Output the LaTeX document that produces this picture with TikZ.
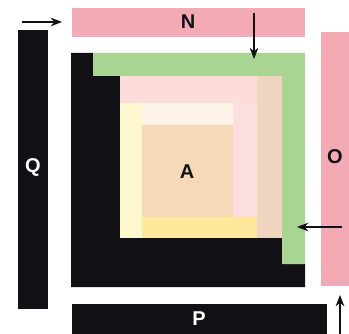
\documentclass[tikz,border=0pt]{standalone}
\usepackage{fontspec}
\setmainfont{Liberation Sans}
\usetikzlibrary{arrows.meta}
\definecolor{ink}{RGB}{17,17,21}
\definecolor{barpink}{RGB}{244,170,181}
\definecolor{leafgreen}{RGB}{170,212,146}
\definecolor{bandpink}{RGB}{252,221,219}
\definecolor{coltan}{RGB}{239,212,192}
\definecolor{colpink}{RGB}{253,222,224}
\definecolor{paleyellow}{RGB}{255,247,208}
\definecolor{cream}{RGB}{252,243,232}
\definecolor{coretan}{RGB}{245,217,185}
\definecolor{bandyellow}{RGB}{255,232,155}

\begin{document}
\begin{tikzpicture}[x=0.75pt,y=0.75pt,yscale=-1,xscale=1,
  lbl/.style={font=\fontsize{15}{15}\selectfont\bfseries, inner sep=0.75pt},
  arr/.style={-{Stealth[length=8.5pt,width=6.5pt]}, line width=0.8pt, color=ink}]
\useasboundingbox (0,0) rectangle (349,334);

%Shape: Rectangle [bar N]
\fill [barpink] (72,8) rectangle (305,37);
%Shape: Rectangle [bar O]
\fill [barpink] (321,32) rectangle (349,286);
%Shape: Rectangle [bar Q]
\fill [ink] (18,30) rectangle (48,309);
%Shape: Rectangle [bar P]
\fill [ink] (72,304) rectangle (327,334);

%Shape: Polygon [black L]
\fill [ink] (71,53) -- (93,53) -- (93,76) -- (120,76) -- (120,238) -- (282,238) -- (282,264) -- (305,264) -- (305,287) -- (71,287) -- cycle;
%Shape: Polygon [green L]
\fill [leafgreen] (93,53) -- (305,53) -- (305,264) -- (282,264) -- (282,76) -- (93,76) -- cycle;

%Shape: Rectangle [inner layers]
\fill [coltan] (257,76) rectangle (282,238);
\fill [bandpink] (120,76) rectangle (257,103);
\fill [colpink] (233,103) rectangle (257,217);
\fill [paleyellow] (120,103) rectangle (142,238);
\fill [cream] (142,103) rectangle (233,125);
\fill [coretan] (142,125) rectangle (233,217);
\fill [bandyellow] (142,217) rectangle (257,238);

% Text Node
\node [lbl, text=ink] (labN) at (188,22) {N};
% Text Node
\node [lbl, text=ink] (labO) at (335,157) {O};
% Text Node
\node [lbl, text=white] (labP) at (199,319) {P};
% Text Node
\node [lbl, text=white] (labQ) at (33,167) {Q};
% Text Node
\node [lbl, text=ink] (labA) at (187,172) {A};

%Straight Lines [arrows]
\coordinate (inTop) at (22,22);
\coordinate (inTopEnd) at (62,22);
\coordinate (inDown) at (254,13);
\coordinate (inDownEnd) at (254,59);
\coordinate (inSide) at (342,227);
\coordinate (inSideEnd) at (297,227);
\coordinate (inUp) at (340,334);
\coordinate (inUpEnd) at (340,295);
\draw [arr] (inTop) -- (inTopEnd);
\draw [arr] (inDown) -- (inDownEnd);
\draw [arr] (inSide) -- (inSideEnd);
\draw [arr] (inUp) -- (inUpEnd);

\end{tikzpicture}
\end{document}
